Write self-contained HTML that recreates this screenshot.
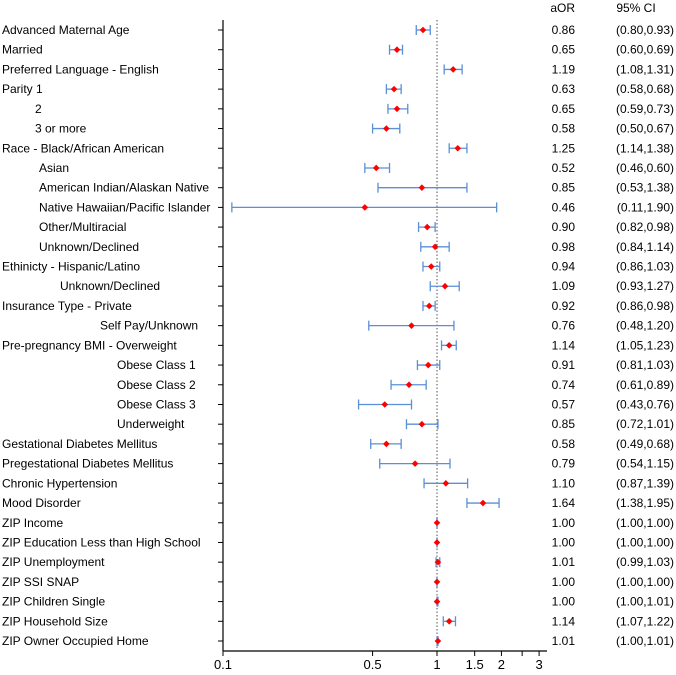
<!DOCTYPE html>
<html><head><meta charset="utf-8"><style>
html,body{margin:0;padding:0;background:#fff;width:676px;height:675px;overflow:hidden}
svg{display:block;font-family:"Liberation Sans",Arial,sans-serif}
</style></head><body>
<svg id="chart" width="676" height="675" viewBox="0 0 676 675"></svg>
<script>
const labels=["Advanced Maternal Age","Married","Preferred Language - English","Parity 1","2","3 or more","Race - Black/African American","Asian","American Indian/Alaskan Native","Native Hawaiian/Pacific Islander","Other/Multiracial","Unknown/Declined","Ethinicty - Hispanic/Latino","Unknown/Declined","Insurance Type - Private","Self Pay/Unknown","Pre-pregnancy BMI - Overweight","Obese Class 1","Obese Class 2","Obese Class 3","Underweight","Gestational Diabetes Mellitus","Pregestational Diabetes Mellitus","Chronic Hypertension","Mood Disorder","ZIP Income","ZIP Education Less than High School","ZIP Unemployment","ZIP SSI SNAP","ZIP Children Single","ZIP Household Size","ZIP Owner Occupied Home"];
const indents=[2,2,2,2,35,35,2,39,39,39,39,39,2,60,2,100,2,117,117,117,117,2,2,2,2,2,2,2,2,2,2,2];
const aor=[0.86,0.65,1.19,0.63,0.65,0.58,1.25,0.52,0.85,0.46,0.90,0.98,0.94,1.09,0.92,0.76,1.14,0.91,0.74,0.57,0.85,0.58,0.79,1.10,1.64,1.00,1.00,1.01,1.00,1.00,1.14,1.01];
const lo=[0.80,0.60,1.08,0.58,0.59,0.50,1.14,0.46,0.53,0.11,0.82,0.84,0.86,0.93,0.86,0.48,1.05,0.81,0.61,0.43,0.72,0.49,0.54,0.87,1.38,1.00,1.00,0.99,1.00,1.00,1.07,1.00];
const hi=[0.93,0.69,1.31,0.68,0.73,0.67,1.38,0.60,1.38,1.90,0.98,1.14,1.03,1.27,0.98,1.20,1.23,1.03,0.89,0.76,1.01,0.68,1.15,1.39,1.95,1.00,1.00,1.03,1.00,1.01,1.22,1.01];
const ticks=[0.1,0.5,1,1.5,2,2.5,3];
const tickLabels=["0.1","0.5","1","1.5","2","","3"];
const NS="http://www.w3.org/2000/svg";
const svg=document.getElementById('chart');
const X0=223,PX=214;
function xs(v){return X0+PX*Math.log10(v/0.1);}
function ys(i){return 30+i*19.71;}
function mk(t,a,p){const e=document.createElementNS(NS,t);for(const k in a)e.setAttribute(k,a[k]);(p||svg).appendChild(e);return e;}
function fmt(v){return v.toFixed(2);}
const AXY=651;
let ax=mk('line',{x1:X0,y1:20,x2:X0,y2:AXY,stroke:'#000','stroke-width':1.2});


let bx=mk('line',{x1:X0,y1:AXY,x2:547,y2:AXY,stroke:'#000','stroke-width':1.2});


let ref=mk('line',{x1:xs(1),y1:20,x2:xs(1),y2:AXY,stroke:'#555','stroke-width':1,'stroke-dasharray':'1.5,2'});


ticks.forEach((t,k)=>{
  const x=xs(t);
  mk('line',{x1:x,y1:AXY,x2:x,y2:AXY+5,stroke:'#000','stroke-width':1});
  if(tickLabels[k]){const tx=mk('text',{x:x,y:AXY+18,'text-anchor':'middle','font-size':13,fill:'#000'});tx.textContent=tickLabels[k];
  
  }
});
const h1=mk('text',{x:575,y:12,'text-anchor':'end','font-size':12});h1.textContent='aOR';


const h2=mk('text',{x:636,y:12,'text-anchor':'middle','font-size':12});h2.textContent='95% CI';


labels.forEach((lab,i)=>{
  const y=ys(i);
  mk('line',{x1:X0-5,y1:y,x2:X0,y2:y,stroke:'#000','stroke-width':1});
  const t=mk('text',{x:indents[i],y:y+4,'font-size':12,fill:'#000'});t.textContent=lab;
  
  
  const g=mk('g',{});
  
  
  const xl=xs(lo[i]),xh=xs(hi[i]);
  mk('line',{x1:xl,y1:y,x2:xh,y2:y,stroke:'#5b8fd6','stroke-width':1.3},g);
  mk('line',{x1:xl,y1:y-5,x2:xl,y2:y+5,stroke:'#5b8fd6','stroke-width':1.3},g);
  mk('line',{x1:xh,y1:y-5,x2:xh,y2:y+5,stroke:'#5b8fd6','stroke-width':1.3},g);
  const p=mk('path',{d:`M${xs(aor[i])} ${y-3.3}L${xs(aor[i])+3.3} ${y}L${xs(aor[i])} ${y+3.3}L${xs(aor[i])-3.3} ${y}Z`,fill:'#ff0000'},g);
  
  
  const a=mk('text',{x:575,y:y+4,'text-anchor':'end','font-size':12});a.textContent=fmt(aor[i]);
  
  
  const c=mk('text',{x:674,y:y+4,'text-anchor':'end','font-size':12});c.textContent='('+fmt(lo[i])+','+fmt(hi[i])+')';
  
  
});
</script>
</body></html>
